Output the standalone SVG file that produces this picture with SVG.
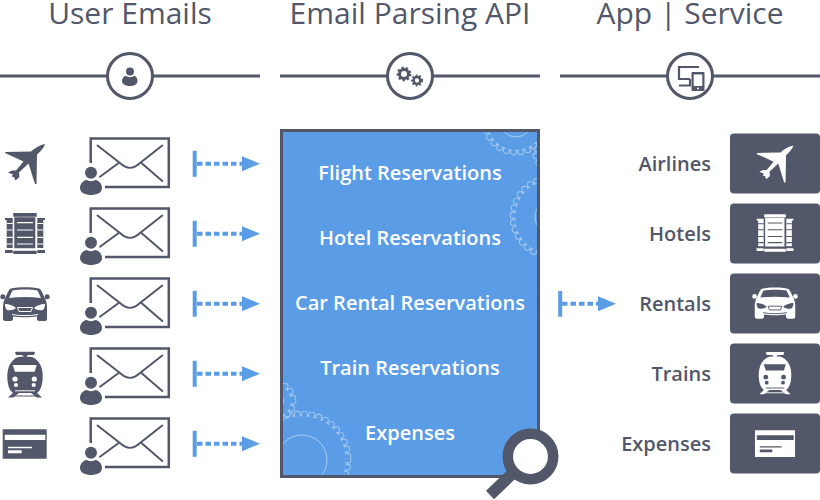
<svg xmlns="http://www.w3.org/2000/svg" xmlns:xlink="http://www.w3.org/1999/xlink" width="820" height="500" viewBox="0 0 820 500">
<style>
text{font-family:"Open Sans","DejaVu Sans",sans-serif;fill:#525769}
.title{font-size:30px;text-anchor:middle}
.inner{font-size:20px;font-weight:600;text-anchor:middle;fill:#fff}
.lab{font-size:20px;font-weight:600;text-anchor:end}
.rule{stroke:#525769;stroke-width:3;fill:none}
.ring{stroke:#525769;stroke-width:3;fill:#fff}
.d{fill:#525769}
.lt{color:#525769;--b:#fff}
.wt{color:#fff;--b:#525769}
.m{fill:currentColor}
.k{fill:var(--b)}
.kl{stroke:var(--b);fill:none}
.flow{stroke:#5a9ce5;stroke-width:4;stroke-dasharray:5.5 3;fill:none}
.bar{stroke:#5a9ce5;stroke-width:4;fill:none}
.box{fill:#525769}
.gd{fill:#a9ccf2}
.gi{fill:#5a9ce5}
.go{fill:none;stroke:#a9ccf2;stroke-width:6.800;stroke-linecap:round;stroke-dasharray:0 7.300}
.gn{fill:none;stroke:#5a9ce5;stroke-width:5;stroke-linecap:round;stroke-dasharray:0 7.300}
.circ{fill:none;stroke:#a9ccf2;stroke-width:1}
.env{fill:none;stroke:#525769;stroke-width:2.500}
.env2{fill:none;stroke:#525769;stroke-width:2;stroke-linecap:round;stroke-linejoin:round}
</style>
<defs>
<marker id="head" markerUnits="userSpaceOnUse" markerWidth="18" markerHeight="16" refX="0" refY="8" orient="auto"><path d="M0 0.5L18 8L0 15.5z" fill="#5a9ce5"/></marker>
<clipPath id="panelclip"><rect x="283" y="132" width="254" height="343"/></clipPath>
<g id="plane"><path class="m" d="M45 144C44 147.500 41 151 37 154.500L36.500 184L35 184L28.500 163.500L19 172.500L19.500 177L15.500 180.500L14 177L11.500 176.500L13 174.500L8 172.500L12 170.500L16 170.500L23.500 161.500L5 153L5.500 152L31 151.500C35 148 40 145 45 144Z"/></g>
<g id="hotel">
<path class="m" d="M13.300 213H36.700V216.700H13.300zM14.300 217.300H35.300V248.300H14.300zM13.300 250.700H36.700V254H13.300zM5 218H12.700V220H5zM37.300 218H45V220H37.300zM6.700 220H12.700V248H6.700zM37.300 220H43.300V248H37.300zM5 250H12.700V253H5zM37.300 250H45V253H37.300z"/>
<path class="kl" stroke-width="1.200" d="M17 222.700H33M17 230H33M17 237.300H33M17 244H33M6.700 223.500H12.700M6.700 230H12.700M6.700 237.300H12.700M6.700 244H12.700M37.300 223.500H43.300M37.300 230H43.300M37.300 237.300H43.300M37.300 244H43.300"/>
</g>
<g id="car">
<path class="m" d="M11 288.500C18 286.800 32 286.800 39 288.500C41 289 42.500 293 44.500 297.500C46.500 301 47 304 47 308V316H47V319C47 320.300 46 321 45 321H39C37.800 321 37 320.300 37 319V316.500C30 317.500 20 317.500 13 316.500V319C13 320.300 12.200 321 11 321H5C4 321 3 320.300 3 319V308C3 304 3.500 301 5.500 297.500C7.500 293 9 289 11 288.500Z"/>
<circle class="m" cx="2.800" cy="296.800" r="2.500"/><circle class="m" cx="47.200" cy="296.800" r="2.500"/>
<path class="k" d="M12.500 290.500C20 289.300 30 289.300 37.500 290.500L41 298C30 296.800 20 296.800 9 298Z"/>
<path class="k" d="M5 304C9 304 14 306 16 308C14 310 10 310.500 7 310C5.500 308.500 5 306 5 304ZM45 304C41 304 36 306 34 308C36 310 40 310.500 43 310C44.500 308.500 45 306 45 304Z"/>
<path class="kl" stroke-width="1" d="M17.500 307.500H32.500L31 311.500H19Z"/>
<path class="kl" stroke-width="1" d="M12 314.500C20 316 30 316 38 314.500"/>
</g>
<g id="train">
<path class="m" d="M15 352.500C15 351.800 16 351.700 17 351.700H33C34 351.700 35 351.800 35 352.500L34 355H28L26 357H24L22 355H16Z"/>
<path class="m" d="M18 357C20 356.500 30 356.500 32 357C39 360 42.700 367 42.700 376C42.700 384 41 390 37 393H13C9 390 7.300 384 7.300 376C7.300 367 11 360 18 357Z"/>
<path class="m" d="M13 393H19L13 397.500H8ZM37 393H31L37 397.500H42Z"/>
<path class="m" d="M13 395.500H37V396.500H13z"/>
<path class="k" d="M12.700 365H36.700L34.700 371.700H15Z"/>
<circle class="k" cx="15" cy="379" r="2.600"/><circle class="k" cx="34.300" cy="379" r="2.600"/><circle class="k" cx="16" cy="385" r="2.100"/><circle class="k" cx="33.700" cy="385" r="2.100"/>
<path class="k" d="M15 390.300H35V391.300H15z"/>
</g>
<g id="card">
<path class="m" d="M2.700 429.300H46.700V458.700H2.700z"/>
<path class="k" d="M4.700 434.700H45.300V440H4.700zM8 446.700H32V448.300H8zM8 450.300H21.700V453.300H8z"/>
</g>
<g id="mail">
<path class="env" d="M90.700 163V138.600H168.800V187H105"/>
<path class="env2" d="M97.500 145.500L120 163C127 169.500 133 169.500 140 163L162.300 145.500M100 176.700L118.300 163.300M141.700 163.300L162.300 181"/>
<circle class="d" cx="91" cy="172.700" r="6"/>
<path class="d" d="M80 188C80 184 83 180.500 86.500 180C89 181.500 93 181.500 95.500 180C99 180.500 102 184 102 188C102 193 96 195 91 195C86 195 80 193 80 188Z"/>
</g>
</defs>
<g id="connectors">
<g id="arrows-left">
<path class="bar" d="M194.700 150.700V176.700M194.700 220.700V246.700M194.700 290.700V316.700M194.700 360.700V386.700M194.700 430.700V456.700"/>
<path class="flow" d="M197 163.700H242" marker-end="url(#head)"/>
<path class="flow" d="M197 233.700H242" marker-end="url(#head)"/>
<path class="flow" d="M197 303.700H242" marker-end="url(#head)"/>
<path class="flow" d="M197 373.700H242" marker-end="url(#head)"/>
<path class="flow" d="M197 443.700H242" marker-end="url(#head)"/>
</g>
<g id="arrow-right">
<path class="bar" d="M560.200 291V316.700"/>
<path class="flow" d="M562 303.700H598" marker-end="url(#head)"/>
</g>
</g>
<g id="col-user">
<text class="title" x="130" y="24">User Emails</text>
<path class="rule" d="M0 76H260"/>
<circle class="ring" cx="130" cy="76" r="22.500"/>
<circle class="d" cx="130" cy="71.500" r="4"/>
<path class="d" d="M122 81C122 78 124 76 126 76C128 77.500 132 77.500 134 76C136 76 137.500 78 137.500 81C137.500 85 133 86 130 86C127 86 122 85 122 81Z"/>
</g>
<g id="col-api">
<text class="title" x="410" y="24">Email Parsing API</text>
<path class="rule" d="M280 76H540"/>
<circle class="ring" cx="410" cy="76" r="22.500"/>
<circle cx="404" cy="74" r="4.500" fill="none" stroke="#525769" stroke-width="3"/>
<circle cx="404" cy="74" r="6.300" fill="none" stroke="#525769" stroke-width="2.200" stroke-dasharray="2.200 2.200"/>
<circle cx="417" cy="80.500" r="3.400" fill="none" stroke="#525769" stroke-width="2.500"/>
<circle cx="417" cy="80.500" r="5" fill="none" stroke="#525769" stroke-width="2" stroke-dasharray="1.800 1.800"/>
</g>
<g id="col-app">
<text class="title" x="690" y="24">App | Service</text>
<path class="rule" d="M560 76H820"/>
<circle class="ring" cx="690" cy="76" r="22.500"/>
<path fill="none" stroke="#525769" stroke-width="2.200" d="M699 67H679V79H690M679 85.500H690V79"/>
<path class="d" d="M692.500 72H703.500C704 72 704.500 72.500 704.500 73V90C704.500 90.500 704 91 703.500 91H692.500C692 91 691.500 90.500 691.500 90V73C691.500 72.500 692 72 692.500 72Z"/>
<path fill="#fff" d="M693.700 74.500H702.300V86H693.700z"/>
<circle fill="#fff" cx="698" cy="88.500" r="1"/>
</g>
<g id="panel">
<rect x="281.500" y="130.500" width="257" height="346" fill="#5a9ce5" stroke="#525769" stroke-width="3"/>
<g clip-path="url(#panelclip)">
<g id="gear-a"><circle class="gd" cx="302" cy="460" r="45"/><circle class="go" cx="302" cy="460" r="46"/><circle class="gi" cx="302" cy="460" r="44"/><circle class="gn" cx="302" cy="460" r="46"/><circle class="circ" cx="302" cy="460" r="25"/></g>
<g id="gear-b"><circle class="gd" cx="275" cy="401" r="17"/><circle class="go" cx="275" cy="401" r="18"/><circle class="gi" cx="275" cy="401" r="16"/><circle class="gn" cx="275" cy="401" r="18"/><circle class="circ" cx="275" cy="401" r="8.500"/></g>
<g id="gear-c"><circle class="gd" cx="516" cy="121" r="30"/><circle class="go" cx="516" cy="121" r="31"/><circle class="gi" cx="516" cy="121" r="29"/><circle class="gn" cx="516" cy="121" r="31"/><circle class="circ" cx="516" cy="121" r="16"/></g>
<g id="gear-d"><circle class="gd" cx="552" cy="217" r="38"/><circle class="go" cx="552" cy="217" r="39"/><circle class="gi" cx="552" cy="217" r="37"/><circle class="gn" cx="552" cy="217" r="39"/><circle class="circ" cx="552" cy="217" r="17"/></g>
<g id="gear-e"><circle class="gd" cx="548" cy="155" r="11"/><circle class="go" cx="548" cy="155" r="12"/><circle class="gi" cx="548" cy="155" r="10"/><circle class="gn" cx="548" cy="155" r="12"/></g>
</g>
<text class="inner" x="410" y="180">Flight Reservations</text>
<text class="inner" x="410" y="245">Hotel Reservations</text>
<text class="inner" x="410" y="310">Car Rental Reservations</text>
<text class="inner" x="410" y="375">Train Reservations</text>
<text class="inner" x="410" y="440">Expenses</text>
<g id="magnifier">
<circle cx="530.500" cy="456.500" r="22.700" fill="#fff" stroke="#525769" stroke-width="10.500"/>
<path d="M490 495L513 473" stroke="#525769" stroke-width="11.600" fill="none"/>
</g>
</g>
<g id="src-flight" class="lt"><use href="#plane"/><use href="#mail"/></g>
<g id="src-hotel" class="lt"><use href="#hotel"/><use href="#mail" y="70"/></g>
<g id="src-car" class="lt"><use href="#car"/><use href="#mail" y="140"/></g>
<g id="src-train" class="lt"><use href="#train"/><use href="#mail" y="210"/></g>
<g id="src-card" class="lt"><use href="#card"/><use href="#mail" y="280"/></g>
<g id="out-airlines" class="wt"><text class="lab" x="711" y="171">Airlines</text><rect class="box" x="730" y="133.500" width="90" height="60" rx="4"/><use href="#plane" transform="translate(775 164) scale(.92) translate(-25 -164)"/></g>
<g id="out-hotels" class="wt"><text class="lab" x="711" y="241">Hotels</text><rect class="box" x="730" y="203.500" width="90" height="60" rx="4"/><use href="#hotel" transform="translate(775 233) scale(.92) translate(-25 -233.500)"/></g>
<g id="out-rentals" class="wt"><text class="lab" x="711" y="311">Rentals</text><rect class="box" x="730" y="273.500" width="90" height="60" rx="4"/><use href="#car" transform="translate(775 303) scale(.92) translate(-25 -304)"/></g>
<g id="out-trains" class="wt"><text class="lab" x="711" y="381">Trains</text><rect class="box" x="730" y="343.500" width="90" height="60" rx="4"/><use href="#train" transform="translate(775 373) scale(.92) translate(-25 -374.500)"/></g>
<g id="out-expenses" class="wt"><text class="lab" x="711" y="451">Expenses</text><rect class="box" x="730" y="413.500" width="90" height="60" rx="4"/><use href="#card" transform="translate(775 443.700) scale(.91) translate(-24.700 -444)"/></g>
</svg>
